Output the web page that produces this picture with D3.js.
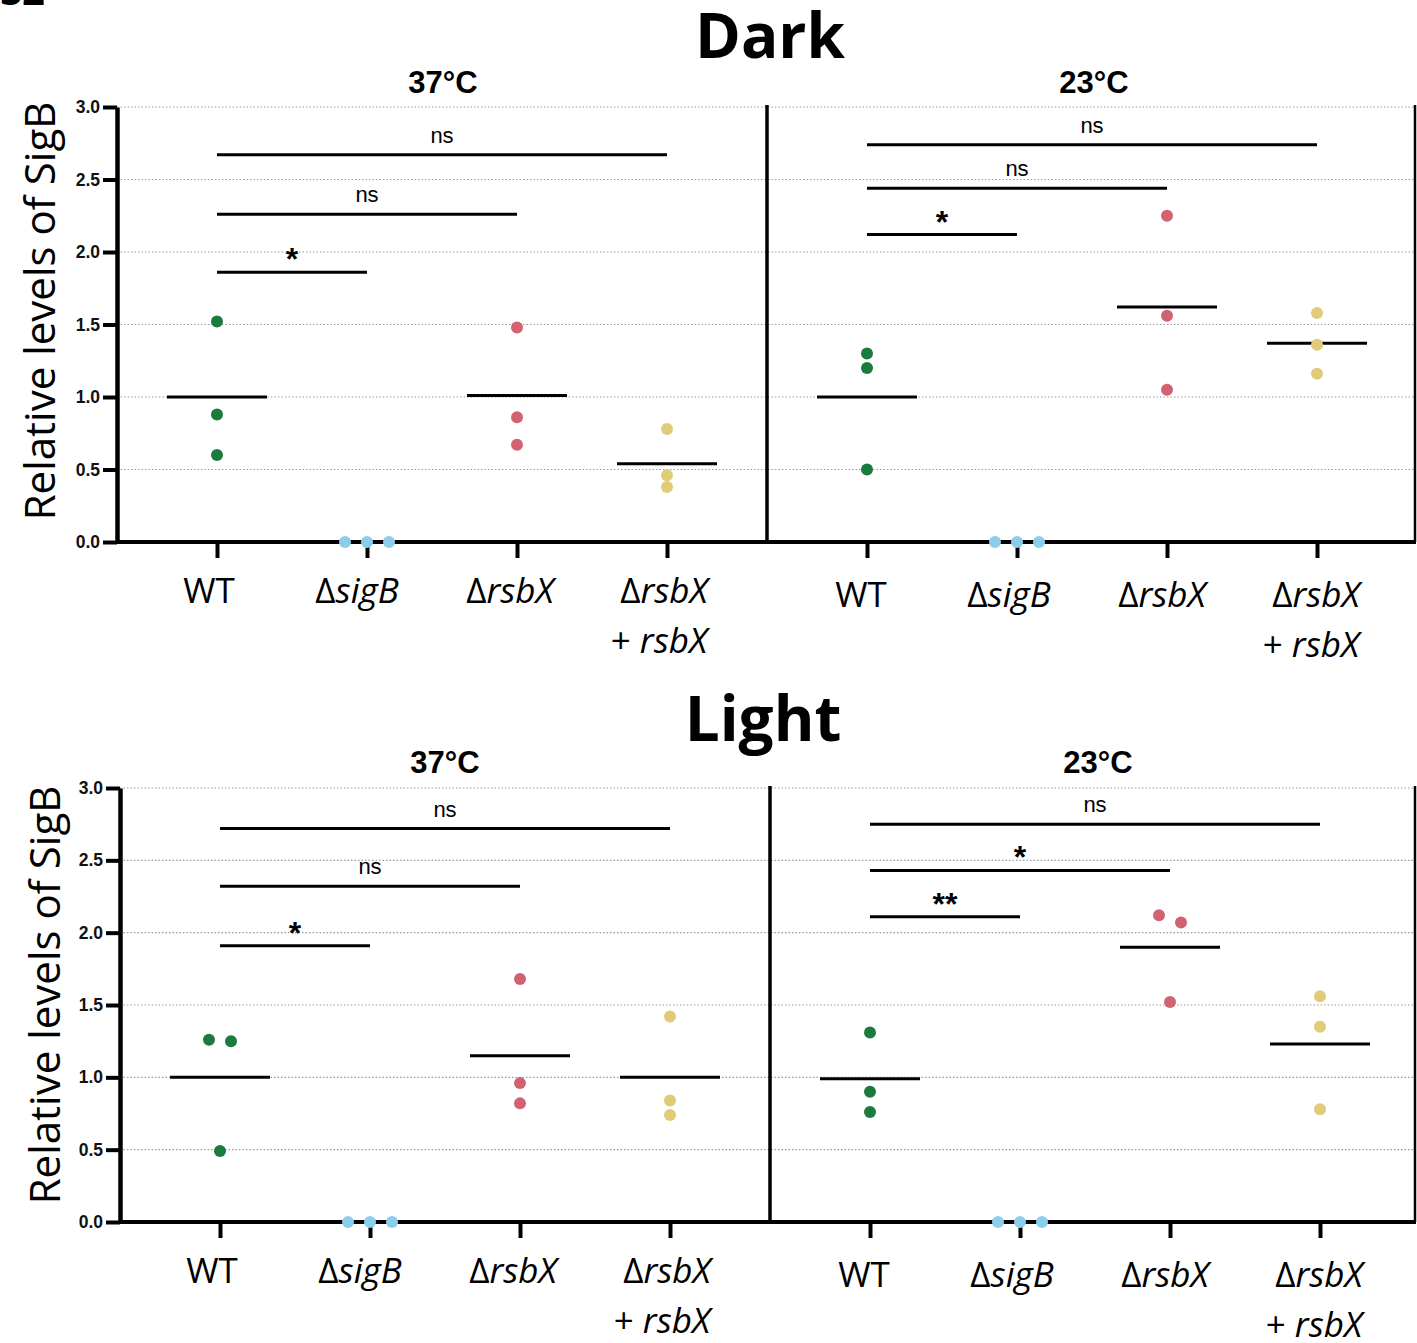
<!DOCTYPE html>
<html>
<head>
<meta charset="utf-8">
<script src="https://cdn.jsdelivr.net/npm/d3@7"></script>
<style>
  html, body { margin: 0; padding: 0; background: #fff; }
  svg { display: block; }
</style>
</head>
<body>
<svg id="chart" width="1417" height="1343"></svg>
<script>
// ---------------- DATA ----------------
const categories = ["WT", "ΔsigB", "ΔrsbX", "ΔrsbX + rsbX"];
const conditions = ["Dark", "Light"];
const temperatures = ["37°C", "23°C"];
const yTicks = [0, 0.5, 1.0, 1.5, 2.0, 2.5, 3.0];
const yLabel = "Relative levels of SigB";
const colors = ["#1a7b3d", "#d16272", "#e0cb79", "#8ccdec"]; // WT, ΔrsbX, ΔrsbX+rsbX, ΔsigB

// replicate values per category (WT, ΔsigB, ΔrsbX, ΔrsbX + rsbX)
const dark37Values  = [[1.52, 0.88, 0.60], [0, 0, 0], [1.48, 0.86, 0.67], [0.78, 0.46, 0.38]];
const dark37Means   = [1.00, null, 1.01, 0.54];
const dark37Sig     = [[1, 1.86, "*"], [2, 2.26, "ns"], [3, 2.67, "ns"]];

const dark23Values  = [[1.30, 1.20, 0.50], [0, 0, 0], [2.25, 1.56, 1.05], [1.58, 1.36, 1.16]];
const dark23Means   = [1.00, null, 1.62, 1.37];
const dark23Sig     = [[1, 2.12, "*"], [2, 2.44, "ns"], [3, 2.74, "ns"]];

const light37Values = [[1.26, 1.25, 0.49], [0, 0, 0], [1.68, 0.96, 0.82], [1.42, 0.84, 0.74]];
const light37Means  = [1.00, null, 1.15, 1.00];
const light37Sig    = [[1, 1.91, "*"], [2, 2.32, "ns"], [3, 2.72, "ns"]];

const light23Values = [[1.31, 0.90, 0.76], [0, 0, 0], [2.12, 2.07, 1.52], [1.56, 1.35, 0.78]];
const light23Means  = [0.99, null, 1.90, 1.23];
const light23Sig    = [[1, 2.11, "**"], [2, 2.43, "*"], [3, 2.75, "ns"]];

// ---------------- LAYOUT ----------------
const svg = d3.select("#chart");
const catColor = [colors[0], colors[3], colors[1], colors[2]];

const rows = [
  { title: conditions[0], titleX: 770, titleY: 58, top: 107, bottom: 542, left: 117, mid: 767, right: 1415,
    yLabX: 38, yLabY: 311, subY: 93,
    panels: [{ t: temperatures[0], v: dark37Values, m: dark37Means, s: dark37Sig, subX: 443, labShift: 0 },
             { t: temperatures[1], v: dark23Values, m: dark23Means, s: dark23Sig, subX: 1094, labShift: 4 }] },
  { title: conditions[1], titleX: 763, titleY: 741, top: 788, bottom: 1222, left: 120, mid: 770, right: 1415,
    yLabX: 43, yLabY: 995, subY: 773,
    panels: [{ t: temperatures[0], v: light37Values, m: light37Means, s: light37Sig, subX: 445, labShift: 0 },
             { t: temperatures[1], v: light23Values, m: light23Means, s: light23Sig, subX: 1098, labShift: 4 }] }
];

// partially visible panel tag at the very top-left
svg.append("text").attr("x", 0).attr("y", 5).attr("font-family", "Open Sans").attr("font-size", 40)
  .attr("font-weight", 700).text("S2");

const labelShift = [-8, -10, -7, -3];

rows.forEach(row => {
  const y = d3.scaleLinear().domain([0, 3]).range([row.bottom, row.top]);
  const g = svg.append("g");

  // big title
  g.append("text").attr("x", row.titleX).attr("y", row.titleY).attr("text-anchor", "middle")
    .attr("font-family", "Open Sans").attr("font-weight", 700).attr("font-size", 62).text(row.title);

  // y label
  g.append("text").attr("transform", `translate(${row.yLabX},${row.yLabY}) rotate(-90)`)
    .attr("text-anchor", "middle").attr("dominant-baseline", "central")
    .attr("font-family", "Open Sans").attr("font-size", 42).text(yLabel);

  // dotted gridlines
  g.append("g").selectAll("line").data(yTicks.slice(1)).join("line")
    .attr("x1", row.left).attr("x2", row.right).attr("y1", d => y(d)).attr("y2", d => y(d))
    .attr("stroke", "#9a9a9a").attr("stroke-width", 1.2).attr("stroke-dasharray", "1.5,2");

  // y axis
  const ya = g.append("g").attr("transform", `translate(${row.left},0)`)
    .call(d3.axisLeft(y).tickValues(yTicks).tickFormat(d3.format(".1f")).tickSize(14).tickSizeOuter(0));
  ya.select(".domain").attr("stroke", "#000").attr("stroke-width", 4.5);
  ya.selectAll(".tick line").attr("stroke", "#000").attr("stroke-width", 4);
  ya.selectAll(".tick text").attr("font-family", "Liberation Sans, Arial").attr("font-weight", 700)
    .attr("font-size", 17.5).attr("fill", "#111").attr("x", -17);

  // panel divider and right border
  g.append("line").attr("x1", row.mid).attr("x2", row.mid).attr("y1", row.top - 2).attr("y2", row.bottom)
    .attr("stroke", "#000").attr("stroke-width", 3.5);
  g.append("line").attr("x1", row.right).attr("x2", row.right).attr("y1", row.top - 2).attr("y2", row.bottom)
    .attr("stroke", "#000").attr("stroke-width", 2.5);

  // x axis baseline
  g.append("line").attr("x1", row.left).attr("x2", row.right + 1).attr("y1", row.bottom).attr("y2", row.bottom)
    .attr("stroke", "#000").attr("stroke-width", 4);

  row.panels.forEach((p, pi) => {
    const x0 = pi === 0 ? row.left : row.mid;
    const x = d3.scalePoint().domain(categories).range([x0, x0 + 650]).padding(2 / 3);

    // subtitle
    g.append("text").attr("x", p.subX).attr("y", row.subY).attr("text-anchor", "middle")
      .attr("font-family", "Liberation Sans, Arial").attr("font-weight", 700).attr("font-size", 31).text(p.t);

    // x ticks
    const xa = g.append("g").attr("transform", `translate(0,${row.bottom})`)
      .call(d3.axisBottom(x).tickSize(16).tickSizeOuter(0).tickFormat(""));
    xa.select(".domain").remove();
    xa.selectAll(".tick line").attr("stroke", "#000").attr("stroke-width", 4);

    // x labels
    categories.forEach((c, ci) => {
      const parts = c.split(" + ");
      const lines = parts.length > 1 ? [parts[0], "+ " + parts[1]] : [parts[0]];
      lines.forEach((ln, li) => {
        const t = g.append("text").attr("x", x(c) + labelShift[ci] + (li === 1 ? -5 : 0) + (pi === 1 ? 2 : 0))
          .attr("y", row.bottom + 61 + p.labShift + li * 50)
          .attr("text-anchor", "middle").attr("font-family", "Open Sans").attr("font-size", 35).attr("fill", "#000");
        if (ln === "WT") { t.text(ln); return; }
        const m = ln.match(/^(Δ|\+ )(.*)$/);
        t.append("tspan").text(m[1]);
        t.append("tspan").attr("font-style", "italic").text(m[2]);
      });
    });

    // means
    p.m.forEach((mv, i) => {
      if (mv === null) return;
      g.append("line").attr("x1", x(categories[i]) - 50).attr("x2", x(categories[i]) + 50)
        .attr("y1", y(mv)).attr("y2", y(mv)).attr("stroke", "#000").attr("stroke-width", 3);
    });

    // points with simple collision spreading
    p.v.forEach((vals, i) => {
      const sorted = vals.map(v => ({ v })).sort((a, b) => b.v - a.v);
      const clusters = [];
      sorted.forEach(d => {
        const last = clusters[clusters.length - 1];
        if (last && Math.abs(y(last[last.length - 1].v) - y(d.v)) < 10) last.push(d); else clusters.push([d]);
      });
      clusters.forEach(cl => cl.forEach((d, k) => { d.dx = (k - (cl.length - 1) / 2) * 22; }));
      g.append("g").selectAll("circle").data(sorted).join("circle")
        .attr("cx", d => x(categories[i]) + d.dx).attr("cy", d => y(d.v)).attr("r", 6)
        .attr("fill", catColor[i]);
    });

    // significance bars
    p.s.forEach(([to, yv, lab]) => {
      const xa1 = x(categories[0]), xb = x(categories[to]);
      g.append("line").attr("x1", xa1).attr("x2", xb).attr("y1", y(yv)).attr("y2", y(yv))
        .attr("stroke", "#000").attr("stroke-width", 3);
      const isStar = lab.includes("*");
      g.append("text").attr("x", (xa1 + xb) / 2).attr("y", y(yv) + (isStar ? -2 : -12))
        .attr("text-anchor", "middle").attr("font-family", "Liberation Sans, Arial")
        .attr("font-size", isStar ? 32 : 22).attr("font-weight", isStar ? 700 : 400).text(lab);
    });
  });
});
</script>
</body>
</html>
